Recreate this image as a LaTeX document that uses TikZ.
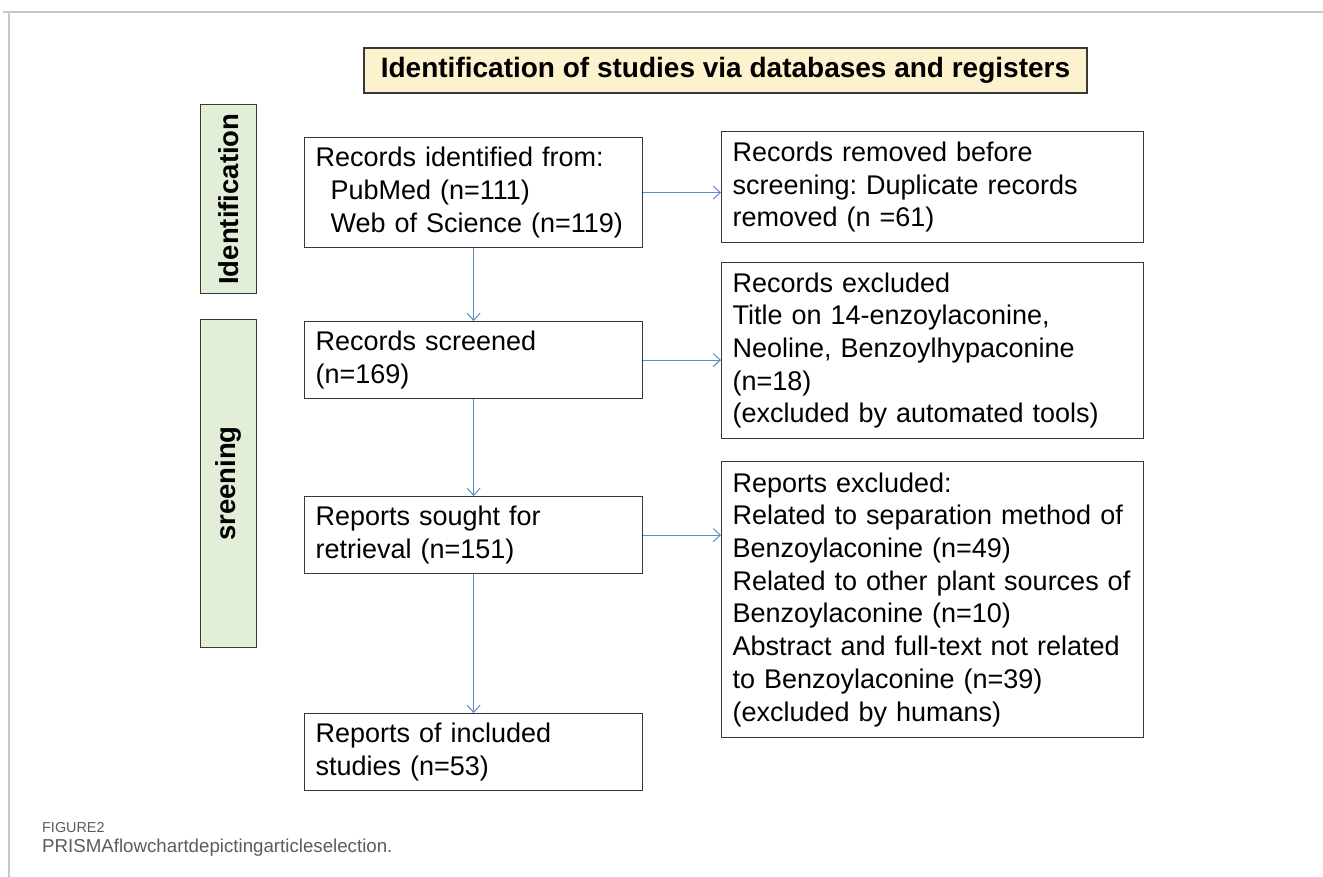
\documentclass[tikz,border=0pt]{standalone}
\usepackage{fontspec}
\setmainfont{Liberation Sans}
\usetikzlibrary{arrows.meta,positioning,calc}
\definecolor{titlefill}{HTML}{FCF2CD}
\definecolor{sidefill}{HTML}{E3EED8}
\definecolor{arrowblue}{HTML}{5E8BC8}
\definecolor{framegray}{HTML}{C8C8C8}
\definecolor{capgray}{HTML}{5C5C5C}
\definecolor{boxline}{HTML}{383838}
\frenchspacing
\tikzset{
  every node/.style={font=\fontsize{27}{32.7}\selectfont},
  flowbox/.style={draw=boxline, line width=1.2pt, fill=white, align=left, inner xsep=11pt, inner ysep=0pt, anchor=north west},
  sidebox/.style={draw=boxline, line width=1.2pt, fill=sidefill, anchor=north west, inner sep=0pt},
  sidetext/.style={rotate=90, font=\fontsize{27.5}{32}\selectfont\bfseries},
  flowarrow/.style={draw=arrowblue, line width=1pt, -{Straight Barb[length=7pt,width=13pt,line width=1pt]}},
}
\begin{document}
\begin{tikzpicture}[x=1pt,y=-1pt]
\useasboundingbox (0,0) rectangle (1323,877);
\fill[white] (0,0) rectangle (1323,877);
% page frame
\draw[framegray, line width=1.3pt] (3,12) -- (1323,12);
\draw[framegray, line width=1.3pt] (9,12) -- (9,877);
% title
\node[draw=boxline, line width=1.5pt, fill=titlefill, minimum width=723pt, minimum height=45pt, inner sep=0pt, font=\fontsize{28}{32}\selectfont\bfseries] (title) at (725.5,70.5) {Identification of studies via databases and registers};
% side bars
\node[sidebox, minimum width=56pt, minimum height=189pt] (sideid) at (200,104) {};
\node[sidetext] (sideidtxt) at (sideid.center) {Identification};
\node[sidebox, minimum width=56pt, minimum height=328pt] (sidescr) at (200,319) {};
\node[sidetext] (sidescrtxt) at (sidescr.center) {sreening};
% left column
\node[flowbox, text width=316pt, minimum height=110pt] (b1) at (304,137) {Records identified from:\\\hspace*{15pt}PubMed (n=111)\\\hspace*{15pt}Web of Science (n=119)};
\node[flowbox, text width=316pt, minimum height=77pt] (b2) at (304,321) {Records screened\\(n=169)};
\node[flowbox, text width=316pt, minimum height=77pt] (b3) at (304,496) {Reports sought for\\retrieval (n=151)};
\node[flowbox, text width=316pt, minimum height=77pt] (b4) at (304,713) {Reports of included\\studies (n=53)};
% right column
\node[flowbox, text width=400pt, minimum height=111pt] (r1) at (721,131) {Records removed before\\screening: Duplicate records\\removed (n =61)};
\node[flowbox, text width=400pt, minimum height=176pt] (r2) at (721,262) {Records excluded\\Title on 14-enzoylaconine,\\Neoline, Benzoylhypaconine\\(n=18)\\(excluded by automated tools)};
\node[flowbox, text width=400pt, minimum height=276pt] (r3) at (721,461) {Reports excluded:\\Related to separation method of\\Benzoylaconine (n=49)\\Related to other plant sources of\\Benzoylaconine (n=10)\\Abstract and full-text not related\\to Benzoylaconine (n=39)\\(excluded by humans)};
% arrows
\draw[flowarrow] (b1.south) -- (b2.north);
\draw[flowarrow] (b2.south) -- (b3.north);
\draw[flowarrow] (b3.south) -- (b4.north);
\draw[flowarrow] (b1.east) -- (b1.east -| r1.west);
\draw[flowarrow] (b2.east) -- (b2.east -| r2.west);
\draw[flowarrow] (b3.east) -- (b3.east -| r3.west);
% caption
\node[anchor=base west, inner sep=0pt, text=capgray, font=\fontsize{14.4}{16}\selectfont] (figlabel) at (42,832) {FIGURE2};
\node[anchor=base west, inner sep=0pt, text=capgray, font=\fontsize{18.7}{22}\selectfont] (figcaption) at (42,852) {PRISMAflowchartdepictingarticleselection.};
\end{tikzpicture}
\end{document}
